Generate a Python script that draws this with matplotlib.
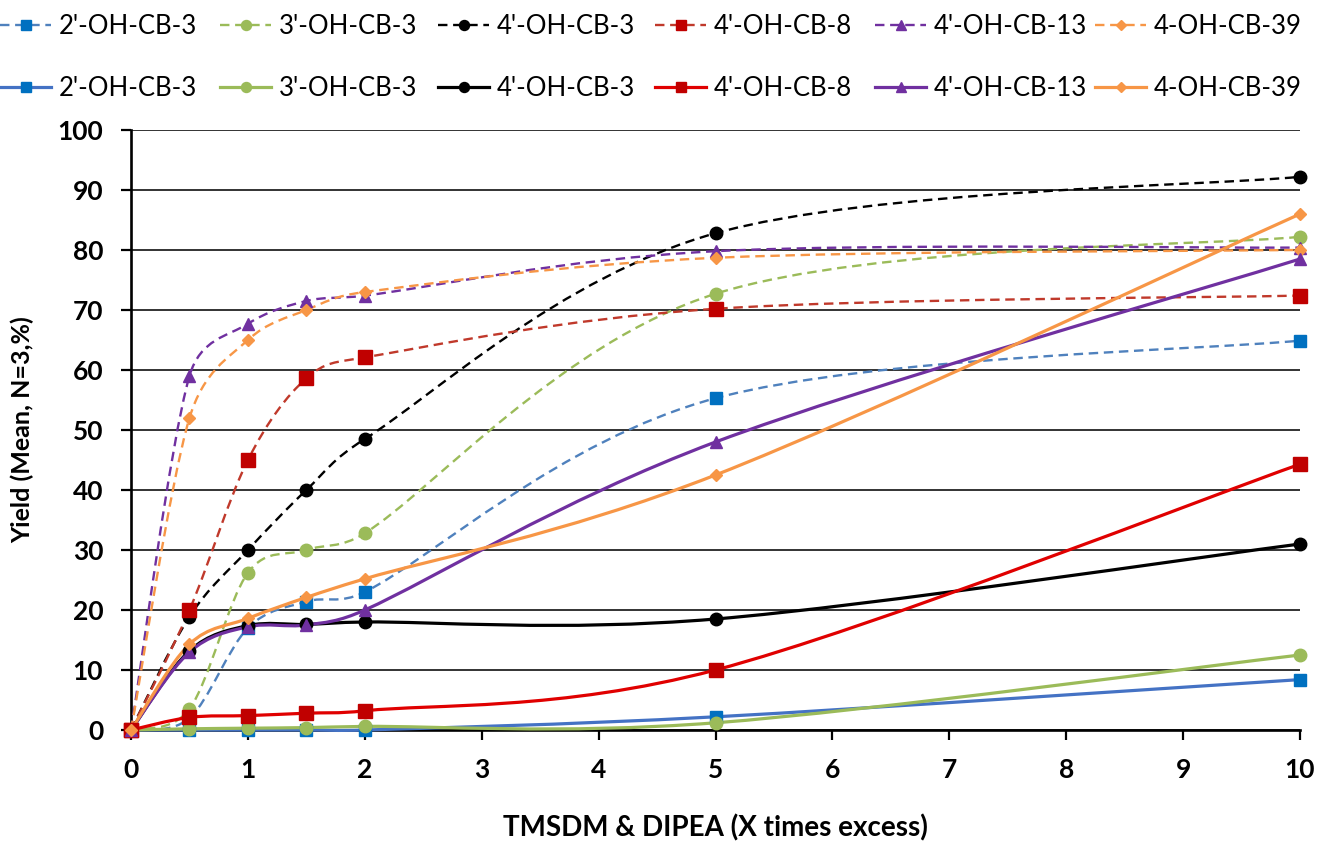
import numpy as np
import matplotlib
matplotlib.use("Agg")
import matplotlib.pyplot as plt
from matplotlib.path import Path
from matplotlib.patches import PathPatch
from matplotlib.lines import Line2D

plt.rcParams['font.family'] = ['Lato', 'DejaVu Sans']

# x values (times excess) and series labels
x = [0, 0.5, 1, 1.5, 2, 5, 10]
names = ["2'-OH-CB-3", "3'-OH-CB-3", "4'-OH-CB-3", "4'-OH-CB-8", "4'-OH-CB-13", "4-OH-CB-39"]

# dashed series (first legend row)
dash_cb3_2 = [0, 2, 17, 21.4, 23, 55.3, 64.9]
dash_cb3_3 = [0, 3.5, 26.2, 30, 32.8, 72.7, 82.2]
dash_cb3_4 = [0, 18.9, 30, 40, 48.5, 82.8, 92.2]
dash_cb8 = [0, 20, 45, 58.6, 62.1, 70.2, 72.4]
dash_cb13 = [0, 59, 67.7, 71.5, 72.4, 79.8, 80.4]
dash_cb39 = [0, 52, 65, 70, 73, 78.7, 80]

# solid series (second legend row)
sol_cb3_2 = [0, 0, 0, 0, 0, 2.2, 8.4]
sol_cb3_3 = [0, 0.2, 0.3, 0.4, 0.6, 1.2, 12.5]
sol_cb3_4 = [0, 13.2, 17.4, 17.6, 18, 18.5, 31]
sol_cb8 = [0, 2.1, 2.4, 2.8, 3.2, 10, 44.3]
sol_cb13 = [0, 13, 17.2, 17.5, 20, 48, 78.5]
sol_cb39 = [0, 14.3, 18.6, 22.1, 25.2, 42.5, 86]

dashed = [dash_cb3_2, dash_cb3_3, dash_cb3_4, dash_cb8, dash_cb13, dash_cb39]
solid = [sol_cb3_2, sol_cb3_3, sol_cb3_4, sol_cb8, sol_cb13, sol_cb39]

mcolors = ['#0070C0', '#9BBB59', '#000000', '#C00000', '#7030A0', '#F79646']
dash_lc = ['#4F81BD', '#9BBB59', '#000000', '#C0392B', '#7030A0', '#F79646']
sol_lc = ['#4472C4', '#9BBB59', '#000000', '#E00000', '#7030A0', '#F79646']
markers = ['s', 'o', 'o', 's', '^', 'D']
msizes = [9, 9, 9, 9.5, 9, 6.5]

W, H = 1318, 842
fig = plt.figure(figsize=(W / 100, H / 100), dpi=100)
ax = fig.add_axes([131 / W, 1 - 730 / H, (1300 - 131) / W, 600 / H])
ax.set_xlim(0, 10)
ax.set_ylim(0, 100)

# pixel per unit, for excel-like smoothing in screen space
sx = 1169 / 10
sy = 600 / 100


def smooth_path(xs, ys):
    p = np.column_stack([np.asarray(xs) * sx, np.asarray(ys) * sy])
    n = len(p)
    verts = [p[0]]
    codes = [Path.MOVETO]
    for i in range(n - 1):
        p0, p1, p2, p3 = p[max(i - 1, 0)], p[i], p[i + 1], p[min(i + 2, n - 1)]
        seg = np.hypot(*(p2 - p1))
        t1 = (p2 - p0) / 6
        t2 = (p3 - p1) / 6
        for t in (t1, t2):
            ln = np.hypot(*t)
            if ln > seg / 2:
                t *= (seg / 2) / ln
        verts += [p1 + t1, p2 - t2, p2]
        codes += [Path.CURVE4] * 3
    v = np.array(verts)
    v[:, 0] /= sx
    v[:, 1] /= sy
    return Path(v, codes)


dash_style = (0, (4, 2.4))

for i, ys in enumerate(dashed):
    ax.add_patch(PathPatch(smooth_path(x, ys), fill=False, ec=dash_lc[i], lw=1.7,
                           ls=dash_style, zorder=3, clip_on=False))
    ax.plot(x, ys, ls='none', marker=markers[i], ms=msizes[i], color=mcolors[i],
            mec=mcolors[i], zorder=4, clip_on=False)

for i, ys in enumerate(solid):
    ax.add_patch(PathPatch(smooth_path(x, ys), fill=False, ec=sol_lc[i], lw=2.3,
                           zorder=5, clip_on=False))
    ax.plot(x, ys, ls='none', marker=markers[i], ms=msizes[i], color=mcolors[i],
            mec=mcolors[i], zorder=6, clip_on=False)

# axes styling
ax.set_xticks(range(0, 11))
ax.set_yticks(range(0, 101, 10))
ax.grid(axis='y', color='#333333', lw=1.4)
ax.set_axisbelow(True)
for s in ['top', 'right']:
    ax.spines[s].set_visible(False)
for s in ['left', 'bottom']:
    ax.spines[s].set_linewidth(1.9)
ax.tick_params(direction='out', length=7, width=1.6, labelsize=19, pad=13)
for lab in ax.get_xticklabels() + ax.get_yticklabels():
    lab.set_fontweight('bold')

ax.set_ylabel('Yield (Mean, N=3,%)', fontsize=18, fontweight='bold')
ax.yaxis.set_label_coords(-0.083, 0.5)
ax.set_xlabel('TMSDM & DIPEA (X times excess)', fontsize=20, fontweight='bold')
ax.xaxis.set_label_coords(0.5, -0.141)

# legend: two rows, evenly spaced entries
col_x = [0, 220, 438, 655, 875, 1095]
rows = [(26, dash_lc, dash_style, 1.7), (88, sol_lc, '-', 2.3)]
for ry, lcs, ls, lw in rows:
    for i, cx in enumerate(col_x):
        h = Line2D([], [], color=lcs[i], ls=ls, lw=lw, marker=markers[i],
                   ms=msizes[i] * 0.8, mfc=mcolors[i], mec=mcolors[i])
        fig.legend(handles=[h], labels=[names[i]], loc='center left',
                   bbox_to_anchor=(cx / W, 1 - ry / H), frameon=False,
                   borderpad=0, borderaxespad=0, handlelength=2.0,
                   handletextpad=0.3, fontsize=18.5)

fig.savefig('out.png', dpi=100)
